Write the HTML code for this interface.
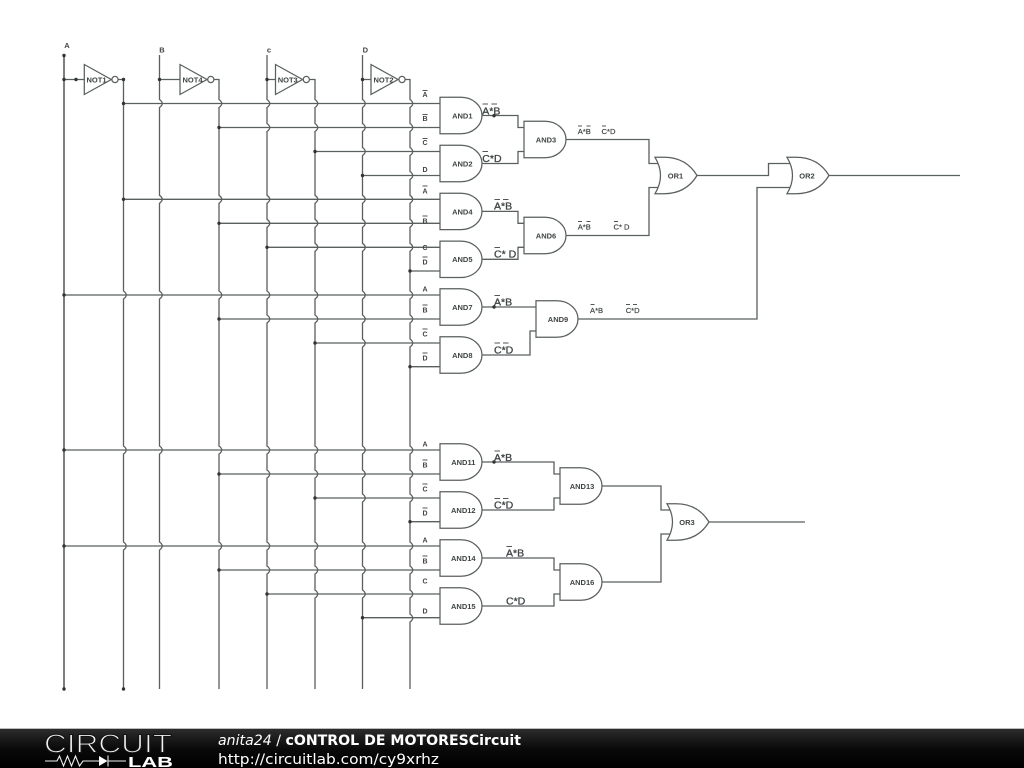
<!DOCTYPE html>
<html><head><meta charset="utf-8"><title>cONTROL DE MOTORES</title>
<style>
html,body{margin:0;padding:0;background:#fff}
svg{display:block}
.w{fill:none;stroke:#5a5f5f;stroke-width:1.3}
.g{fill:#fff;stroke:#5a5f5f;stroke-width:1.25}
text{font-family:"Liberation Sans",sans-serif;fill:#3f4444}
.n{font-weight:bold;font-size:7.5px}
.c{text-anchor:middle}
.l{font-weight:bold;font-size:7px;text-anchor:middle}
.b{font-size:10.5px;stroke:#3f4444;stroke-width:.3}
.s{font-size:7.6px;stroke:#3f4444;stroke-width:.18}
.bar{fill:none;stroke:#555;stroke-width:.9}
.f{font-family:"DejaVu Sans",sans-serif;fill:#fff;font-size:14.5px}
</style></head><body>
<svg width="1024" height="768" viewBox="0 0 1024 768" xmlns="http://www.w3.org/2000/svg">
<defs>
<linearGradient id="fg" x1="0" y1="0" x2="0" y2="1"><stop offset="0" stop-color="#2c2c2c"/><stop offset=".5" stop-color="#0a0a0a"/><stop offset="1" stop-color="#000"/></linearGradient>
<path id="and" class="g" d="M0-18.2H21A21 18.2 0 0 1 21 18.2H0Z"/>
<path id="or" class="g" d="M0-18.2H9Q31-18.2 42 0Q31 18.2 9 18.2H0Q11 0 0-18.2Z"/>
<path id="not" class="g" d="M0-15V15L27 0Z"/>
</defs>
<rect width="1024" height="768" fill="#fff"/>

<g class="w">
<path style="stroke-width:1.6" d="M64 55V689"/>
<path d="M123.5 79.5V291q5.500 4 0 8V446q5.500 4 0 8V542q5.500 4 0 8V689"/>
<path d="M159.500 55V99.500q5.500 4 0 8V195.300q5.500 4 0 8V291q5.500 4 0 8V446q5.500 4 0 8V542q5.500 4 0 8V689"/>
<path d="M214 79.500H219V99.500q5.500 4 0 8V195.300q5.500 4 0 8V291q5.500 4 0 8V446q5.500 4 0 8V542q5.500 4 0 8V689"/>
<path d="M267 55V99.500q5.500 4 0 8V123.500q5.500 4 0 8V195.300q5.500 4 0 8V219.300q5.500 4 0 8V291q5.500 4 0 8V315q5.500 4 0 8V446q5.500 4 0 8V470q5.500 4 0 8V542q5.500 4 0 8V566q5.500 4 0 8V689"/>
<path d="M309.500 79.500H315V99.500q5.500 4 0 8V123.500q5.500 4 0 8V195.300q5.500 4 0 8V219.300q5.500 4 0 8V243.300q5.500 4 0 8V291q5.500 4 0 8V315q5.500 4 0 8V446q5.500 4 0 8V470q5.500 4 0 8V542q5.500 4 0 8V566q5.500 4 0 8V590q5.500 4 0 8V689"/>
<path d="M362.500 55V99.500q5.500 4 0 8V123.500q5.500 4 0 8V147.500q5.500 4 0 8V195.300q5.500 4 0 8V219.300q5.500 4 0 8V243.300q5.500 4 0 8V291q5.500 4 0 8V315q5.500 4 0 8V339q5.500 4 0 8V446q5.500 4 0 8V470q5.500 4 0 8V494q5.500 4 0 8V542q5.500 4 0 8V566q5.500 4 0 8V590q5.500 4 0 8V689"/>
<path d="M405.500 79.500H410V99.500q5.500 4 0 8V123.500q5.500 4 0 8V147.500q5.500 4 0 8V171.500q5.500 4 0 8V195.300q5.500 4 0 8V219.300q5.500 4 0 8V243.300q5.500 4 0 8V291q5.500 4 0 8V315q5.500 4 0 8V339q5.500 4 0 8V446q5.500 4 0 8V470q5.500 4 0 8V494q5.500 4 0 8V542q5.500 4 0 8V566q5.500 4 0 8V590q5.500 4 0 8V614q5.500 4 0 8V689"/>

<path d="M64 79.500H84M118 79.500H123.500M159.500 79.500H180M267 79.500H275.500M362.500 79.500H371"/>
<path d="M123.500 103.500H440M219 127.500H440M315 151.500H440M362.500 175.500H440M123.500 199.300H440M219 223.300H440M267 247.300H440M410 271H440M64 295H440M219 319H440M315 343H440M410 366.700H440"/>
<path d="M64 450H440M219 474H440M315 498H440M410 521.700H440M64 546H440M219 570H440M267 594H440M362.500 617.700H440"/>

<path d="M482 115.500H518V127.500H524M482 163.500H518V151.500H524M482 211.400H518V223.300H524M482 259.300H518V247.300H524"/>
<path d="M566 139.500H649V163.500H658M566 235.500H649V187.500H658"/>
<path d="M697 175.500H768.500V163.500H790M482 307H536M482 355H530V331H536M578 319H757V187.500H790M829 175.500H960"/>
<path d="M482 462H554V474H560M482 510H554V498H560M482 558H554V570H560M482 606H554V594H560"/>
<path d="M602 486H661V510H670M602 582H661V534H670M709 522H805"/>
</g>

<g fill="#333">
<circle cx="64" cy="55.500" r="1.700"/><circle cx="64" cy="79.500" r="1.700"/><circle cx="76" cy="79.500" r="1.700"/><circle cx="123.500" cy="79.500" r="1.700"/><circle cx="159.500" cy="79.500" r="1.700"/><circle cx="267" cy="79.500" r="1.700"/><circle cx="362.500" cy="79.500" r="1.700"/>
<circle cx="123.500" cy="103.500" r="1.700"/><circle cx="123.500" cy="199.300" r="1.700"/><circle cx="219" cy="127.500" r="1.700"/><circle cx="219" cy="223.300" r="1.700"/><circle cx="219" cy="319" r="1.700"/><circle cx="219" cy="474" r="1.700"/><circle cx="219" cy="570" r="1.700"/>
<circle cx="315" cy="151.500" r="1.700"/><circle cx="315" cy="343" r="1.700"/><circle cx="315" cy="498" r="1.700"/><circle cx="267" cy="247.300" r="1.700"/><circle cx="267" cy="594" r="1.700"/><circle cx="362.500" cy="175.500" r="1.700"/><circle cx="362.500" cy="617.700" r="1.700"/>
<circle cx="410" cy="271" r="1.700"/><circle cx="410" cy="366.700" r="1.700"/><circle cx="410" cy="521.700" r="1.700"/>
<circle cx="64" cy="295" r="1.700"/><circle cx="64" cy="450" r="1.700"/><circle cx="64" cy="546" r="1.700"/><circle cx="64" cy="689" r="1.700"/><circle cx="123.500" cy="689" r="1.700"/>
<circle cx="494" cy="115.700" r="1.700"/><circle cx="494" cy="307" r="1.700"/><circle cx="494" cy="462" r="1.700"/>
</g>

<use href="#not" x="84.300" y="79.500"/><circle class="g" cx="115" cy="79.500" r="3.100"/>
<use href="#not" x="180" y="79.500"/><circle class="g" cx="210.800" cy="79.500" r="3.100"/>
<use href="#not" x="275.500" y="79.500"/><circle class="g" cx="306.300" cy="79.500" r="3.100"/>
<use href="#not" x="371" y="79.500"/><circle class="g" cx="402" cy="79.500" r="3.100"/>

<use href="#and" x="440" y="115.500"/><use href="#and" x="440" y="163.500"/><use href="#and" x="440" y="211.400"/><use href="#and" x="440" y="259.300"/>
<use href="#and" x="440" y="307"/><use href="#and" x="440" y="355"/><use href="#and" x="440" y="462"/><use href="#and" x="440" y="510"/><use href="#and" x="440" y="558"/><use href="#and" x="440" y="606"/>
<use href="#and" x="524" y="139.500"/><use href="#and" x="524" y="235.500"/><use href="#and" x="536" y="319"/><use href="#and" x="560" y="486"/><use href="#and" x="560" y="582"/>
<use href="#or" x="655" y="175.500"/><use href="#or" x="787" y="175.500"/><use href="#or" x="667" y="522"/>

<g class="n">
<text x="86.500" y="82.300">NOT1</text><text x="182.500" y="82.300">NOT4</text><text x="277.700" y="82.300">NOT3</text><text x="373.500" y="82.300">NOT2</text>
<text class="c" x="462.300" y="118.500">AND1</text><text class="c" x="462.300" y="166.500">AND2</text><text class="c" x="462.300" y="214.300">AND4</text><text class="c" x="462.300" y="262.200">AND5</text>
<text class="c" x="462.300" y="310">AND7</text><text class="c" x="462.300" y="358">AND8</text><text class="c" x="463.300" y="465">AND11</text><text class="c" x="463.300" y="513">AND12</text><text class="c" x="463.300" y="561">AND14</text><text class="c" x="463.300" y="609">AND15</text>
<text class="c" x="546" y="142.500">AND3</text><text class="c" x="546" y="238.500">AND6</text><text class="c" x="558" y="322">AND9</text><text class="c" x="582" y="489">AND13</text><text class="c" x="582" y="585">AND16</text>
<text class="c" x="675.500" y="178.500">OR1</text><text class="c" x="807" y="178.500">OR2</text><text class="c" x="687" y="525">OR3</text>
<text class="c" x="67" y="48">A</text><text class="c" x="162" y="52.500">B</text><text class="c" x="269" y="52.500">c</text><text class="c" x="365.300" y="52.500">D</text>
</g>

<g class="l">
<text x="425" y="97">A</text><text x="425" y="121">B</text><text x="425" y="145">C</text><text x="425" y="172">D</text><text x="425" y="193.500">A</text><text x="425" y="223.500">B</text><text x="425" y="249.800">C</text><text x="425" y="264.500">D</text>
<text x="425" y="291.500">A</text><text x="425" y="312.500">B</text><text x="425" y="336.500">C</text><text x="425" y="360.500">D</text>
<text x="425" y="446.500">A</text><text x="425" y="467.500">B</text><text x="425" y="491.500">C</text><text x="425" y="515.500">D</text><text x="425" y="542.500">A</text><text x="425" y="563.500">B</text><text x="425" y="583.500">C</text><text x="425" y="613.500">D</text>
</g>
<path class="bar" d="M422.500 90.500h5M422.500 114.500h5M422.500 138.500h5M422.500 186h5M422.500 216h5M422.500 257h5M422.500 305h5M422.500 329h5M422.500 353h5M422.500 460h5M422.500 484h5M422.500 508h5M422.500 556h5"/>

<g class="b">
<text x="482.300" y="114.500">A*B</text><text x="482.300" y="162">C*D</text>
<text x="494" y="209.500">A*B</text><text x="494" y="257.500">C* D</text>
<text x="494" y="305.500">A*B</text><text x="494" y="353.500">C*D</text>
<text x="494" y="461">A*B</text><text x="494" y="508.500">C*D</text>
<text x="506" y="556.500">A*B</text><text x="506" y="604.500">C*D</text>
</g>
<path class="bar" d="M482.500 104h5.500M491.500 104h5.500M482.500 151.500h5.500M494.500 199.500h5.500M503 199.500h5.500M494.500 247.500h5.500M494.500 295.500h5.500M494.500 343h5.500M503 343h5.500M494.500 451h5.500M494.500 498.500h5.500M503 498.500h5.500M506.500 546.500h5.500"/>

<g class="s">
<text x="577.700" y="134">A*B</text><text x="601.500" y="134">C*D</text>
<text x="577.700" y="229.700">A*B</text><text x="613.500" y="229.700">C* D</text>
<text x="590" y="313">A*B</text><text x="625.700" y="313">C*D</text>
</g>
<path class="bar" d="M578 126h4M586.500 126h4M602 126h4M578 221.500h4M586.500 221.500h4M614 221.500h4M590.500 304.500h4M626 304.500h4M633 304.500h4"/>

<rect x="0" y="728" width="1024" height="1" fill="#bbb"/>
<rect x="0" y="729" width="1024" height="39" fill="url(#fg)"/>
<text x="44" y="752.500" font-size="26" textLength="128" lengthAdjust="spacingAndGlyphs" style="fill:#f2f2f2;stroke:#141414;stroke-width:1.1">CIRCUIT</text>
<path d="M45 761H57L59.500 756L63.500 766L67.500 756L71.500 766L75.500 756L79.500 766L83 761H99M108 761H126M108 755.500V766.500" fill="none" stroke="#eee" stroke-width="1.100"/>
<path d="M99 756V766L107.500 761Z" fill="#fff"/>
<text x="128" y="767" font-size="14.500" font-weight="bold" textLength="45" lengthAdjust="spacingAndGlyphs" style="fill:#fff">LAB</text>
<text class="f" x="218" y="745" textLength="303" lengthAdjust="spacingAndGlyphs"><tspan font-style="italic">anita24</tspan> / <tspan font-weight="bold">cONTROL DE MOTORESCircuit</tspan></text>
<text class="f" x="218" y="764" textLength="221" lengthAdjust="spacingAndGlyphs">http://circuitlab.com/cy9xrhz</text>
</svg>
</body></html>
